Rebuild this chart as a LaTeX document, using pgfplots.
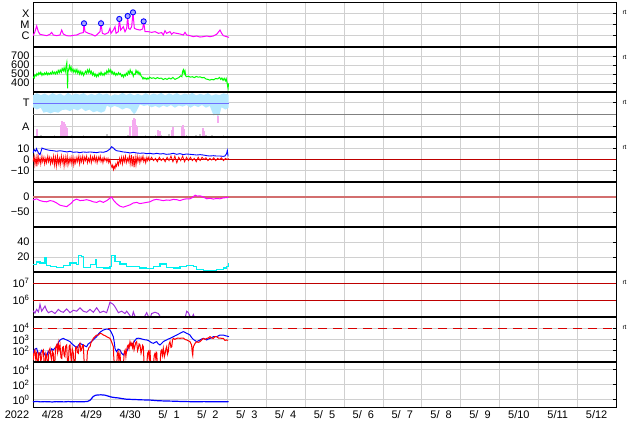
\documentclass[border=0pt]{standalone}
\usepackage{pgfplots}
\pgfplotsset{compat=1.18}
\usepackage{fontspec}
\setmainfont{Liberation Sans}

\definecolor{xmag}{RGB}{255,0,255}
\definecolor{swgreen}{RGB}{0,255,0}
\definecolor{tband}{RGB}{180,232,255}
\definecolor{tline}{RGB}{110,110,255}
\definecolor{apink}{RGB}{245,170,240}
\definecolor{agray}{RGB}{200,200,200}
\definecolor{gridc}{RGB}{208,208,208}
\definecolor{zero}{RGB}{190,0,0}
\definecolor{dstzero}{RGB}{210,110,110}
\definecolor{kcyan}{RGB}{0,240,240}
\definecolor{epurp}{RGB}{160,50,220}
\definecolor{flare}{RGB}{170,170,255}

\pgfplotsset{
  panel/.style={
    scale only axis, width=583bp, height=45bp, anchor=south west,
    xmin=0, xmax=15, xtick={0,...,15}, xticklabels={},
    xtick style={draw=none},
    grid=major, major grid style={draw=gridc, line width=0.6bp},
    axis line style={line width=0.8bp},
    ytick pos=right, yticklabel pos=left, tick align=inside,
    major tick length=3bp, ytick style={line width=0.6bp, black},
    yminorticks=false,
    tick label style={font=\fontsize{11}{12}\selectfont},
    clip=true,
  },
  sep/.style={after end axis/.append code={
    \draw[line width=2.5bp] (rel axis cs:0,1) -- (rel axis cs:1,1);}},
  rt/.style={after end axis/.append code={
    \node[font=\fontsize{6.5}{7}\selectfont, anchor=west, xshift=3bp, yshift=-10bp] at (rel axis cs:1,1) {rt};}},
}

\begin{document}
\begin{tikzpicture}
\useasboundingbox (0,0) rectangle (634bp,424bp);

% ---- X-ray flux
\begin{axis}[panel, rt, at={(33bp,377bp)}, ymode=log, ymin=1e-7, ymax=1e-3,
  ytick={1e-6,1e-5,1e-4}, yticklabels={C,M,X}]
\addplot[xmag, line width=1bp] coordinates {
(0,1.0e-6)(0.009,1.17e-6)(0.051,2.3e-6)(0.094,7.4e-6)(0.137,2.3e-6)(0.180,1.34e-6)
(0.266,1.17e-6)(0.352,1.02e-6)(0.437,1.34e-6)(0.480,2.0e-6)(0.523,1.17e-6)(0.609,1.02e-6)
(0.695,1.17e-6)(0.738,3.2e-6)(0.780,1.43e-6)(0.866,1.02e-6)(0.952,9.5e-7)(1.038,1.09e-6)
(1.124,1.17e-6)(1.209,1.64e-6)(1.295,1.9e-6)(1.312,1.27e-5)(1.338,2.3e-6)(1.424,1.64e-6)
(1.509,1.34e-6)(1.595,9.5e-7)(1.638,1.17e-6)(1.724,2.3e-6)(1.750,1.27e-5)(1.784,1.64e-6)
(1.852,1.34e-6)(1.938,1.9e-6)(1.981,4.6e-6)(2.007,1.64e-6)(2.067,3.2e-6)(2.110,6.4e-6)
(2.136,1.64e-6)(2.196,2.3e-6)(2.221,3.1e-5)(2.256,3.2e-6)(2.324,6.4e-6)(2.367,2.3e-6)
(2.410,4.6e-6)(2.436,5.7e-5)(2.461,4.6e-6)(2.496,3.7e-6)(2.539,6.4e-6)(2.573,1.2e-4)
(2.607,4.6e-6)(2.667,3.7e-6)(2.753,3.2e-6)(2.822,4.0e-6)(2.847,1.9e-5)(2.882,2.3e-6)
(2.967,2.3e-6)(3.053,2.0e-6)(3.139,2.3e-6)(3.225,1.64e-6)(3.310,1.9e-6)(3.353,1.17e-6)
(3.396,2.8e-6)(3.439,1.64e-6)(3.525,2.3e-6)(3.568,1.34e-6)(3.611,1.9e-6)(3.696,1.64e-6)
(3.782,1.43e-6)(3.868,1.17e-6)(3.911,2.0e-6)(3.954,1.17e-6)(4.039,1.02e-6)(4.125,8.3e-7)
(4.211,9.5e-7)(4.297,7.7e-7)(4.383,8.3e-7)(4.468,9.5e-7)(4.554,8.3e-7)(4.640,9.5e-7)
(4.726,1.34e-6)(4.811,3.2e-6)(4.854,1.64e-6)(4.897,1.02e-6)(4.983,8.3e-7)(5.043,7.2e-7)};
\addplot[only marks, mark=*, mark size=2.6bp, mark options={draw=blue, fill=flare, line width=0.9bp}] coordinates {
(1.312,1.27e-5)(1.750,1.27e-5)(2.221,3.1e-5)(2.436,5.7e-5)(2.573,1.2e-4)(2.847,1.9e-5)};
\end{axis}

% ---- solar wind speed
\begin{axis}[panel, sep, rt, at={(33bp,332bp)}, ymin=300, ymax=800,
  ytick={400,500,600,700}, yticklabels={400,500,600,700}]
\addplot[swgreen, line width=1bp] coordinates {
(0.00,470)(0.03,455)(0.05,492)(0.08,478)(0.10,505)(0.13,488)(0.15,515)(0.18,498)(0.20,520)
(0.23,485)(0.25,505)(0.28,490)(0.30,512)(0.33,495)(0.35,518)(0.38,492)(0.40,510)(0.43,495)
(0.45,515)(0.48,500)(0.50,528)(0.53,505)(0.55,520)(0.58,500)(0.60,525)(0.63,505)(0.65,540)
(0.68,515)(0.70,545)(0.73,520)(0.75,560)(0.78,535)(0.80,570)(0.83,525)(0.85,580)(0.87,625)
(0.88,500)(0.89,340)(0.90,520)(0.92,555)(0.94,590)(0.96,545)(0.98,575)(1.00,530)(1.03,555)
(1.05,520)(1.08,548)(1.10,515)(1.13,550)(1.15,510)(1.18,535)(1.20,500)(1.23,530)(1.25,495)
(1.28,520)(1.30,485)(1.33,510)(1.35,530)(1.38,505)(1.40,545)(1.43,515)(1.45,550)(1.48,510)
(1.50,530)(1.53,490)(1.55,515)(1.58,480)(1.60,500)(1.63,470)(1.65,495)(1.68,475)(1.70,510)
(1.73,490)(1.75,520)(1.78,488)(1.80,505)(1.83,485)(1.85,515)(1.88,500)(1.90,535)(1.93,510)
(1.95,550)(1.98,520)(2.00,545)(2.03,505)(2.05,525)(2.08,495)(2.10,515)(2.13,485)(2.15,505)
(2.18,490)(2.20,515)(2.23,495)(2.25,505)(2.28,475)(2.30,490)(2.33,465)(2.35,495)(2.38,480)
(2.40,510)(2.43,490)(2.45,530)(2.48,505)(2.50,545)(2.53,510)(2.55,525)(2.58,475)(2.60,500)
(2.63,495)(2.65,540)(2.68,510)(2.70,530)(2.73,495)(2.75,515)(2.78,480)(2.80,470)(2.83,445)
(2.85,460)(2.88,445)(2.90,455)(2.93,440)(2.95,455)(2.98,445)(3.00,465)(3.05,452)(3.10,458)
(3.15,447)(3.20,460)(3.25,450)(3.30,455)(3.35,438)(3.40,450)(3.45,440)(3.50,455)(3.55,445)
(3.60,462)(3.65,440)(3.70,450)(3.75,460)(3.80,480)(3.83,470)(3.85,530)(3.87,548)(3.89,505)
(3.91,535)(3.93,480)(3.95,470)(4.00,475)(4.05,465)(4.10,470)(4.15,460)(4.20,472)(4.25,465)
(4.30,468)(4.35,458)(4.40,462)(4.45,445)(4.50,440)(4.55,432)(4.60,440)(4.65,435)(4.70,450)
(4.75,445)(4.80,462)(4.83,440)(4.86,455)(4.89,430)(4.92,452)(4.95,425)(4.97,448)(4.99,410)
(5.01,360)(5.02,341)(5.03,395)};
\end{axis}

% ---- T / A
\begin{axis}[panel, sep, rt, at={(33bp,287bp)}, ymin=0, ymax=2,
  ytick={0.47,1.53}, yticklabels={A,T},
  after end axis/.append code={\draw[gray, line width=0.8bp] (rel axis cs:0,0.5) -- (rel axis cs:1,0.5);}]
\addplot[draw=none, fill=tband] coordinates {
(0,1.85)(0.1,1.95)(0.2,1.86)(0.3,1.93)(0.4,1.84)(0.5,1.95)(0.6,1.87)(0.7,1.93)(0.8,1.83)
(0.9,1.96)(1.0,1.86)(1.1,1.93)(1.2,1.88)(1.3,1.95)(1.4,1.84)(1.5,1.92)(1.6,1.86)(1.7,1.95)
(1.8,1.88)(1.9,1.93)(2.0,1.82)(2.1,1.9)(2.2,1.86)(2.3,1.96)(2.4,1.87)(2.5,1.94)(2.6,1.85)
(2.7,1.92)(2.8,1.84)(2.9,1.95)(3.0,1.86)(3.1,1.93)(3.2,1.88)(3.3,1.96)(3.4,1.85)(3.5,1.94)
(3.6,1.87)(3.7,1.95)(3.8,1.86)(3.9,1.93)(4.0,1.88)(4.1,1.96)(4.2,1.85)(4.3,1.92)(4.4,1.87)
(4.5,1.95)(4.6,1.84)(4.7,1.9)(4.8,1.86)(4.9,1.94)(5.03,1.88)
(5.03,1.30)(4.95,1.22)(4.85,1.32)(4.8,1.0)(4.75,0.93)(4.7,1.05)(4.65,0.95)(4.6,1.15)
(4.55,1.38)(4.45,1.30)(4.35,1.42)(4.25,1.33)(4.15,1.40)(4.05,1.30)(3.95,1.42)(3.85,1.35)
(3.75,1.40)(3.65,1.30)(3.55,1.42)(3.45,1.33)(3.35,1.40)(3.25,1.30)(3.15,1.38)(3.05,1.32)
(2.95,1.42)(2.85,1.38)(2.75,1.45)(2.65,1.10)(2.6,1.02)(2.55,1.12)(2.5,1.25)(2.4,1.30)
(2.3,1.22)(2.2,1.32)(2.1,1.38)(2.0,1.30)(1.9,1.40)(1.85,1.15)(1.75,1.08)(1.65,1.15)
(1.55,1.10)(1.45,1.22)(1.35,1.15)(1.25,1.28)(1.15,1.18)(1.05,1.25)(0.95,1.15)(0.85,1.22)
(0.75,1.20)(0.65,1.08)(0.55,1.12)(0.45,1.05)(0.35,1.12)(0.27,1.08)(0.2,1.30)(0.1,1.22)(0,1.32)} -- cycle;
\addplot[tline, line width=1bp] coordinates {(0,1.51)(5.03,1.51)};
\addplot[ycomb, agray, line width=1.5bp] coordinates {
(0.2,0.08)(0.3,0.05)(0.55,0.1)(0.75,0.06)(1.0,0.08)(1.3,0.1)(1.5,0.06)(1.9,0.12)(2.0,0.08)
(2.3,0.06)(2.45,0.1)(2.9,0.08)(3.15,0.1)(3.3,0.07)(3.5,0.12)(3.6,0.06)(3.95,0.08)(4.2,0.1)
(4.3,0.12)(4.45,0.07)(4.6,0.09)(4.9,0.1)};
\addplot[ycomb, apink, line width=1.5bp] coordinates {
(0.10,0.36)(0.12,0.30)(0.72,0.53)(0.75,0.71)(0.80,0.67)(0.82,0.58)(0.85,0.45)(0.87,0.40)
(2.50,0.49)(2.57,0.76)(2.60,0.84)(2.62,0.80)(2.65,0.53)(2.68,0.44)(3.22,0.31)(3.27,0.27)
(3.58,0.31)(3.60,0.44)(3.83,0.44)(3.86,0.53)(3.88,0.36)(4.37,0.40)(4.40,0.27)};
\addplot[apink, line width=1.5bp] coordinates {(4.76,0.62)(4.76,0.92)};
\end{axis}

% ---- IMF
\begin{axis}[panel, sep, rt, at={(33bp,242bp)}, ymin=-20, ymax=20,
  ytick={-10,0,10}, yticklabels={−10,0,10}]
\addplot[zero, line width=0.8bp] coordinates {(0,0)(15,0)};
\addplot[red, line width=0.8bp] coordinates {
(0,-2)(0.03,3)(0.05,-5)(0.08,2)(0.1,-6)(0.13,4)(0.15,-3)(0.18,1)(0.2,-4)(0.23,3)(0.25,-2)
(0.28,2)(0.3,-4)(0.33,1)(0.35,-3)(0.38,3)(0.4,-2)(0.43,2)(0.45,-4)(0.48,1)(0.5,-3)(0.53,3)
(0.55,-5)(0.58,2)(0.6,-6)(0.63,3)(0.65,-4)(0.68,1)(0.7,-5)(0.73,3)(0.75,-3)(0.78,2)(0.8,-6)
(0.83,2)(0.85,-4)(0.88,3)(0.9,-5)(0.93,1)(0.95,-3)(0.98,2)(1.0,-4)(1.03,2)(1.05,-5)(1.08,1)
(1.1,-3)(1.13,2)(1.15,-2)(1.18,3)(1.2,-4)(1.23,2)(1.25,-2)(1.28,3)(1.3,-3)(1.33,2)(1.35,-1)
(1.38,3)(1.4,-3)(1.43,1)(1.45,-2)(1.48,3)(1.5,-3)(1.53,2)(1.55,-1)(1.58,3)(1.6,-2)(1.63,2)
(1.65,-3)(1.68,2)(1.7,-1)(1.73,3)(1.75,-2)(1.78,1)(1.8,-3)(1.83,2)(1.85,-1)(1.88,1)(1.9,-2)
(1.93,1)(1.95,-3)(1.98,0)(2.0,-4)(2.03,-7)(2.05,-5)(2.07,-9)(2.09,-6)(2.11,-8)(2.13,-4)
(2.15,-6)(2.18,-2)(2.2,-5)(2.23,1)(2.25,-3)(2.28,2)(2.3,-4)(2.33,2)(2.35,-2)(2.38,3)(2.4,-3)
(2.43,1)(2.45,-2)(2.48,3)(2.5,-4)(2.53,4)(2.55,-6)(2.58,3)(2.6,-7)(2.63,2)(2.65,-5)(2.68,3)
(2.7,-2)(2.73,2)(2.75,-3)(2.78,2)(2.8,-1)(2.83,3)(2.85,-2)(2.88,1)(2.9,-3)(2.93,2)(2.95,-1)
(2.98,2)(3.0,-1)(3.05,2)(3.1,-1)(3.15,1)(3.2,-2)(3.25,2)(3.3,-1)(3.35,1)(3.4,-2)(3.45,2)
(3.5,-1)(3.55,3)(3.6,-2)(3.65,3)(3.7,-3)(3.75,2)(3.8,-1)(3.85,3)(3.9,-2)(3.95,2)(4.0,-1)
(4.05,2)(4.1,-1)(4.15,1)(4.2,-2)(4.25,2)(4.3,-1)(4.35,2)(4.4,0)(4.45,1.5)(4.5,-1)(4.55,1)
(4.6,-0.5)(4.65,1.5)(4.7,-1)(4.75,1)(4.8,0)(4.85,1.5)(4.9,-1)(4.95,1)(5.0,0)(5.03,1)};
\addplot[blue, line width=0.9bp] coordinates {
(0,5.8)(0.03,8.7)(0.07,7.3)(0.09,9.6)(0.14,5.8)(0.18,4.3)(0.22,8.7)(0.23,10.2)(0.27,9.6)
(0.35,8.7)(0.44,8.1)(0.52,7.8)(0.61,7.3)(0.69,7.8)(0.78,7.3)(0.87,6.7)(0.95,7.3)(1.04,6.4)
(1.12,6.7)(1.21,6.1)(1.29,6.7)(1.38,6.4)(1.47,6.7)(1.55,6.4)(1.64,6.1)(1.72,6.7)(1.81,6.4)
(1.90,7.3)(1.98,9.3)(2.02,11.4)(2.07,10.2)(2.11,8.7)(2.15,7.8)(2.24,7.3)(2.32,6.7)(2.41,6.4)
(2.50,5.8)(2.58,6.4)(2.67,5.8)(2.75,5.5)(2.84,5.8)(2.92,5.2)(3.01,5.5)(3.10,4.9)(3.18,5.5)
(3.27,4.9)(3.35,5.2)(3.44,4.6)(3.53,4.9)(3.61,5.5)(3.70,4.6)(3.78,5.2)(3.87,4.3)(3.95,4.9)
(4.04,4.6)(4.13,4.3)(4.21,4.0)(4.30,4.3)(4.38,4.0)(4.47,3.4)(4.55,3.1)(4.64,3.4)(4.72,3.1)
(4.81,3.1)(4.89,2.8)(4.94,3.1)(4.98,5.2)(5.00,8.0)(5.02,2.8)};
\end{axis}

% ---- Dst
\begin{axis}[panel, sep, at={(33bp,197bp)}, ymin=-100, ymax=50,
  ytick={-50,0}, yticklabels={−50,0}]
\addplot[dstzero, line width=2.2bp] coordinates {(0,0)(15,0)};
\addplot[xmag, line width=1bp] coordinates {
(0,-10)(0.09,-6)(0.18,-12)(0.27,-15)(0.35,-16)(0.44,-12)(0.52,-14)(0.61,-20)(0.69,-27)
(0.78,-30)(0.87,-32)(0.95,-24)(0.99,-20)(1.04,-12)(1.12,-7)(1.21,-12)(1.30,-11)(1.38,-9)
(1.47,-12)(1.55,-16)(1.64,-18)(1.72,-13)(1.81,-18)(1.90,-12)(1.96,-6)(2.02,0)(2.08,-12)
(2.15,-22)(2.23,-30)(2.32,-34)(2.41,-30)(2.50,-26)(2.58,-20)(2.67,-18)(2.75,-22)(2.84,-20)
(2.92,-18)(3.01,-16)(3.10,-10)(3.18,-8)(3.27,-10)(3.35,-12)(3.44,-10)(3.52,-11)(3.61,-8)
(3.70,-9)(3.78,-12)(3.87,-8)(3.95,-6)(4.04,-6)(4.10,-2)(4.17,6)(4.23,3)(4.30,4)(4.38,0)
(4.47,-6)(4.55,-4)(4.64,-7)(4.72,-5)(4.81,-6)(4.89,-3)(4.98,-2)(5.03,0)};
\end{axis}

% ---- cyan index
\begin{axis}[panel, sep, at={(33bp,152bp)}, ymin=0, ymax=60,
  ytick={20,40}, yticklabels={20,40}]
\addplot[kcyan, line width=1.2bp, const plot] coordinates {
(0,9.8)(0.09,13.3)(0.18,12)(0.31,18.7)(0.35,8.9)(0.44,7.6)(0.61,6.2)(0.78,8.9)(0.95,12)
(1.12,9.8)(1.17,22.2)(1.25,20.9)(1.30,6.2)(1.47,9.8)(1.60,16.4)(1.64,6.2)(1.81,5.3)(1.98,7.6)
(2.02,22.2)(2.11,14.2)(2.24,10.7)(2.41,7.6)(2.59,7.6)(2.75,5.3)(2.92,4.4)(3.10,7.6)(3.27,10.7)
(3.44,6.2)(3.61,5.3)(3.78,7.6)(3.95,8.9)(4.13,7.6)(4.21,3.1)(4.38,1.8)(4.55,1.8)(4.73,3.1)
(4.90,5.3)(4.98,7.6)(5.03,12)};
\end{axis}

% ---- electron flux
\begin{axis}[panel, sep, rt, at={(33bp,107bp)}, ymode=log, ymin=1e5, ymax=4.5e7,
  ytick={1e6,1e7}, yticklabels={10\textsuperscript{6},10\textsuperscript{7}}]
\addplot[zero, line width=0.8bp] coordinates {(0,1e6)(15,1e6)};
\addplot[zero, line width=0.8bp] coordinates {(0,1e7)(15,1e7)};
\addplot[epurp, line width=1bp] coordinates {
(0,2.0e5)(0.009,2.2e5)(0.05,1.7e5)(0.094,2.8e5)(0.14,2.0e5)(0.180,5.5e5)(0.223,2.2e5)
(0.309,4.4e5)(0.35,2.5e5)(0.395,1.8e5)(0.480,2.2e5)(0.566,1.6e5)(0.652,2.8e5)(0.72,2.1e5)
(0.780,1.9e5)(0.866,3.0e5)(0.952,1.8e5)(1.038,2.5e5)(1.124,2.2e5)(1.209,3.5e5)(1.295,2.2e5)
(1.381,1.9e5)(1.467,2.8e5)(1.552,1.9e5)(1.638,3.5e5)(1.724,1.8e5)(1.810,2.2e5)(1.895,1.8e5)
(1.981,7.4e5)(2.067,5.5e5)(2.110,4.0e5)(2.196,1.8e5)(2.281,2.2e5)(2.367,1.6e5)(2.410,2.2e5)
(2.496,1.2e5)(2.539,8e4)(2.581,2.0e5)(2.624,1.1e5)(2.667,8e4)(2.84,8e4)(2.925,1.8e5)
(2.967,1.1e5)(3.01,8e4)(3.053,1.6e5)(3.139,1.9e5)(3.225,1.6e5)(3.268,1.1e5)(3.31,8e4)
(3.91,8e4)(3.954,2.2e5)(3.997,1.8e5)(4.039,1.1e5)(4.08,8e4)(4.125,1.4e5)(4.168,8e4)(5.03,8e4)};
\end{axis}

% ---- proton / electron flux
\begin{axis}[panel, sep, rt, at={(33bp,62bp)}, ymode=log, ymin=10, ymax=1e5,
  ytick={1e2,1e3,1e4}, yticklabels={10\textsuperscript{2},10\textsuperscript{3},10\textsuperscript{4}}]
\addplot[red!85!black, line width=1bp, dash pattern=on 9bp off 6bp] coordinates {(0,1e4)(15,1e4)};
\addplot[blue, line width=1bp] coordinates {
(0,120)(0.009,59)(0.05,140)(0.094,162)(0.13,60)(0.18,42)(0.22,110)(0.266,83)(0.31,40)
(0.352,30)(0.39,90)(0.437,59)(0.48,150)(0.523,117)(0.566,180)(0.609,229)(0.65,500)
(0.695,912)(0.74,1100)(0.780,1260)(0.82,1050)(0.866,912)(0.91,760)(0.952,646)(0.99,450)
(1.038,324)(1.08,250)(1.124,162)(1.167,300)(1.209,457)(1.25,380)(1.295,324)(1.34,260)
(1.381,229)(1.42,400)(1.467,525)(1.51,700)(1.552,912)(1.595,1300)(1.638,1780)(1.681,3000)
(1.724,4370)(1.767,5600)(1.810,6920)(1.853,7800)(1.895,8510)(1.938,8000)(1.981,6920)
(2.02,4000)(2.067,1780)(2.09,600)(2.110,162)(2.13,110)(2.153,83)(2.19,140)(2.238,117)
(2.28,60)(2.324,42)(2.37,70)(2.410,83)(2.45,180)(2.496,324)(2.54,420)(2.581,457)
(2.62,800)(2.667,1260)(2.71,1300)(2.753,1260)(2.80,1100)(2.839,1020)(2.88,950)
(2.925,912)(2.97,800)(3.010,646)(3.05,520)(3.096,457)(3.14,560)(3.182,646)(3.22,420)
(3.268,324)(3.31,450)(3.353,646)(3.40,800)(3.439,912)(3.48,1100)(3.525,1260)(3.57,1500)
(3.611,1780)(3.65,2100)(3.696,2510)(3.74,3000)(3.782,3550)(3.82,4200)(3.868,5010)
(3.91,4300)(3.954,3550)(4.00,3000)(4.039,2510)(4.08,1500)(4.125,1020)(4.17,800)
(4.211,646)(4.25,750)(4.297,912)(4.34,1100)(4.383,1260)(4.43,1050)(4.468,912)(4.51,1100)
(4.554,1260)(4.60,1500)(4.640,1780)(4.68,1780)(4.726,1780)(4.77,2100)(4.811,2510)
(4.85,2510)(4.897,2510)(4.94,2200)(4.983,2040)(5.043,1780)};
\addplot[red, line width=1bp] coordinates {
(0,59)(0.009,15)(0.03,90)(0.05,117)(0.07,20)(0.094,83)(0.11,5)(0.13,5)(0.15,70)(0.18,59)
(0.20,12)(0.22,21)(0.24,90)(0.266,117)(0.29,5)(0.31,5)(0.33,60)(0.352,42)(0.37,5)(0.39,5)
(0.41,100)(0.437,162)(0.46,30)(0.48,15)(0.50,90)(0.523,59)(0.54,5)(0.56,5)(0.58,200)
(0.609,324)(0.63,80)(0.65,457)(0.67,120)(0.695,324)(0.72,25)(0.74,21)(0.76,200)(0.780,229)
(0.80,40)(0.82,30)(0.84,250)(0.866,324)(0.89,5)(0.91,5)(0.93,250)(0.952,324)(0.97,40)
(0.99,8)(1.01,150)(1.038,59)(1.06,5)(1.08,5)(1.10,200)(1.124,229)(1.145,70)(1.167,59)
(1.19,350)(1.209,457)(1.23,100)(1.25,117)(1.27,280)(1.295,324)(1.32,5)(1.34,5)(1.36,5)
(1.381,5)(1.40,90)(1.42,117)(1.44,200)(1.467,229)(1.49,500)(1.51,646)(1.552,1260)
(1.595,1780)(1.638,2510)(1.681,2510)(1.724,3550)(1.767,3200)(1.810,2510)(1.853,2200)
(1.895,1780)(1.938,1500)(1.981,1260)(2.02,646)(2.067,229)(2.08,20)(2.10,5)(2.12,5)
(2.153,5)(2.17,60)(2.19,83)(2.21,15)(2.238,59)(2.26,5)(2.28,5)(2.30,5)(2.324,5)(2.35,80)
(2.37,117)(2.39,30)(2.410,117)(2.43,250)(2.45,324)(2.47,150)(2.496,646)(2.52,300)
(2.54,457)(2.56,200)(2.581,457)(2.60,120)(2.62,229)(2.64,500)(2.667,646)(2.69,100)
(2.71,162)(2.73,400)(2.753,324)(2.78,60)(2.80,117)(2.82,300)(2.839,229)(2.86,5)(2.88,5)
(2.90,5)(2.925,5)(2.95,60)(2.97,83)(2.99,20)(3.010,117)(3.03,5)(3.05,5)(3.07,5)(3.096,5)
(3.12,40)(3.14,59)(3.16,20)(3.182,83)(3.20,5)(3.22,5)(3.24,5)(3.268,5)(3.29,90)(3.31,117)
(3.33,40)(3.353,162)(3.38,30)(3.40,59)(3.42,150)(3.439,229)(3.46,50)(3.48,83)(3.50,400)
(3.525,646)(3.55,200)(3.57,229)(3.59,900)(3.611,1260)(3.65,1020)(3.696,1260)(3.74,1350)
(3.782,1260)(3.82,1350)(3.868,1350)(3.91,1020)(3.954,912)(4.00,760)(4.039,646)(4.08,324)
(4.10,59)(4.11,40)(4.125,229)(4.17,457)(4.211,646)(4.25,550)(4.297,646)(4.34,912)
(4.383,1260)(4.43,1020)(4.468,1260)(4.51,1350)(4.554,1780)(4.60,1350)(4.640,1260)
(4.68,1780)(4.726,1780)(4.77,1350)(4.811,1350)(4.85,1260)(4.897,1260)(4.94,830)
(4.983,912)(5.02,830)};
\end{axis}

% ---- bottom panel
\begin{axis}[panel, sep, at={(33bp,17bp)}, ymode=log, ymin=0.1, ymax=1e5,
  ytick={1,1e2,1e4}, yticklabels={10\textsuperscript{0},10\textsuperscript{2},10\textsuperscript{4}},
  extra x ticks={0.5,1.5,...,14.5},
  extra x tick labels={4/28,4/29,4/30,{5/\hphantom{0}1},{5/\hphantom{0}2},{5/\hphantom{0}3},{5/\hphantom{0}4},{5/\hphantom{0}5},{5/\hphantom{0}6},{5/\hphantom{0}7},{5/\hphantom{0}8},{5/\hphantom{0}9},5/10,5/11,5/12},
  extra x tick style={grid=none, major tick length=0pt},
  after end axis/.append code={
    \node[anchor=north, font=\fontsize{11}{12}\selectfont, xshift=-16bp] at (rel axis cs:0,0) {2022};}]
\addplot[blue, line width=1.2bp] coordinates {
(0,0.5)(0.1,0.55)(0.2,0.48)(0.3,0.52)(0.4,0.5)(0.5,0.47)(0.6,0.52)(0.7,0.5)(0.8,0.48)
(0.9,0.53)(1.0,0.5)(1.1,0.52)(1.2,0.49)(1.3,0.5)(1.4,0.55)(1.47,0.8)(1.55,2.5)(1.6,3.5)
(1.65,4.0)(1.75,4.2)(1.85,3.8)(1.92,3.0)(2.0,2.2)(2.1,1.8)(2.2,1.6)(2.3,1.3)(2.4,1.1)
(2.5,1.05)(2.6,1.0)(2.7,0.95)(2.8,0.9)(3.0,0.85)(3.2,0.7)(3.4,0.63)(3.6,0.6)(3.8,0.55)
(4.0,0.52)(4.2,0.5)(4.4,0.52)(4.6,0.5)(4.8,0.51)(5.03,0.5)};
\end{axis}
\end{tikzpicture}
\end{document}
